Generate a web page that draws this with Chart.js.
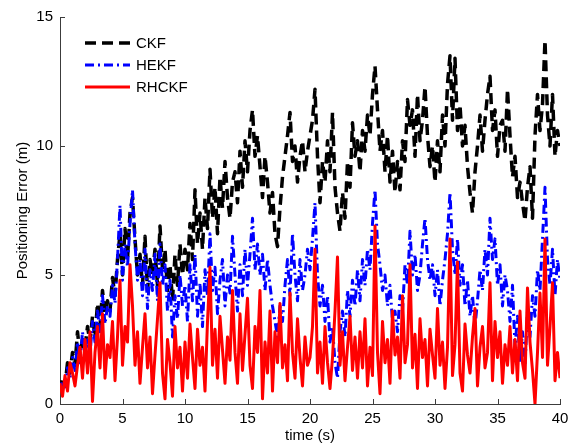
<!DOCTYPE html>
<html>
<head>
<meta charset="utf-8">
<script src="https://cdn.jsdelivr.net/npm/chart.js"></script>
<style>
  html, body { margin: 0; padding: 0; background: #fff; }
  #wrap { width: 575px; height: 445px; }
</style>
</head>
<body>
<div id="wrap"><canvas id="myChart" width="575" height="445"></canvas></div>
<script>
// sample step of the simulation (s), 201 samples from 0 to 40 s
const step = 0.2;
const xTicks = [0, 5, 10, 15, 20, 25, 30, 35, 40];
const yTicks = [0, 5, 10, 15];
const names = ['CKF', 'HEKF', 'RHCKF'];

const ckf = [
  0.5,1.0,0.7,1.6,1.2,2.0,1.5,2.8,1.9,2.5,
  2.2,3.0,2.4,3.4,2.6,3.9,3.0,4.4,3.5,4.0,
  3.6,4.9,4.2,5.6,6.6,5.0,6.8,5.6,7.4,8.0,
  6.4,5.0,5.8,4.6,6.5,4.4,5.6,5.0,6.0,4.6,
  6.9,5.2,6.0,4.4,5.4,4.0,5.8,4.6,6.2,5.0,
  6.0,5.2,7.0,5.6,8.3,6.2,7.4,6.0,8.0,6.8,
  9.1,7.2,8.4,6.6,8.8,7.6,9.4,8.0,7.2,8.6,
  9.0,7.8,9.8,8.4,10.2,9.0,10.6,11.4,9.6,10.4,
  9.2,8.0,9.6,8.6,7.4,8.2,6.6,6.1,7.6,8.8,
  9.6,10.4,11.3,9.4,10.0,8.6,9.6,10.2,9.0,9.8,
  10.4,11.0,12.2,9.6,7.8,9.4,8.6,10.2,9.0,11.3,
  8.4,7.4,6.7,8.2,7.2,9.4,8.4,10.9,9.6,10.2,
  9.0,10.6,9.8,11.2,10.4,12.0,13.1,11.4,9.8,10.6,
  9.0,10.4,8.6,9.8,8.2,9.4,8.3,10.2,9.4,11.8,
  10.8,11.4,9.6,12.0,10.2,11.0,12.3,10.4,9.2,10.0,
  8.6,10.2,9.0,11.2,10.0,12.4,13.5,11.0,13.4,10.6,
  11.6,10.0,10.8,9.2,8.2,7.4,9.0,10.0,11.2,9.8,
  11.0,12.0,12.7,10.6,11.4,9.6,10.8,11.0,9.8,12.2,
  10.4,8.8,9.6,8.0,8.6,7.8,7.1,8.4,9.2,7.2,
  10.4,12.0,10.6,11.6,14.1,11.2,10.0,12.0,9.6,10.6,
  10.0
];

const hekf = [
  0.5,0.9,0.6,1.4,1.0,1.8,1.3,2.4,1.6,2.8,
  2.0,2.6,1.9,3.2,2.4,3.6,2.8,4.2,3.1,3.8,
  3.4,4.6,3.9,5.6,7.7,4.8,6.2,5.3,7.0,8.3,
  6.2,4.8,5.6,4.2,6.0,3.7,5.2,4.4,5.8,4.0,
  6.2,4.6,5.4,3.6,4.8,2.6,4.2,3.3,5.0,3.8,
  4.6,3.2,5.4,4.0,5.8,3.4,4.7,3.0,5.2,4.2,
  6.6,4.4,5.3,3.5,4.8,5.6,3.8,5.0,4.3,6.5,
  5.0,3.6,5.4,4.2,6.0,4.6,5.8,7.2,5.2,6.2,
  5.0,5.8,4.4,5.6,4.6,3.8,3.2,2.6,3.8,3.2,
  4.6,5.6,4.2,6.6,5.0,4.0,5.6,4.4,5.0,6.0,
  5.2,6.4,7.8,5.0,3.8,4.6,3.2,4.2,2.4,3.0,
  1.6,1.0,2.8,3.6,2.6,4.4,3.4,4.8,3.8,5.2,
  4.0,5.6,4.6,6.0,5.2,7.0,8.3,6.2,5.4,4.4,
  5.0,3.8,4.6,3.2,3.6,2.8,4.2,3.6,5.4,4.6,
  6.7,5.0,5.8,4.4,5.0,6.2,7.2,5.6,4.8,5.4,
  4.2,5.2,3.8,4.8,5.6,6.6,8.2,6.0,5.0,6.4,
  4.6,5.4,3.8,4.8,3.4,4.2,3.0,4.0,5.2,4.4,
  6.0,5.0,7.2,5.6,6.4,4.6,5.4,3.8,5.0,4.4,
  3.2,4.6,2.2,3.4,1.6,2.8,1.5,3.6,2.6,4.2,
  3.4,5.2,4.4,6.4,8.4,5.6,4.6,6.0,4.2,5.6,
  4.8
];

const rhckf = [
  0.8,0.3,1.1,0.5,1.6,1.2,0.7,1.5,2.2,1.0,
  2.5,1.2,2.8,0.1,2.0,3.0,1.4,3.5,1.0,2.3,
  1.8,3.2,0.9,2.6,4.8,1.5,3.0,2.4,5.4,3.8,
  1.5,2.8,0.8,2.2,3.5,1.4,2.6,0.4,1.9,3.3,
  4.7,1.2,0.2,2.5,1.6,0.3,3.0,1.4,2.2,0.5,
  2.4,1.0,3.1,1.8,0.6,2.9,1.5,2.2,0.5,3.2,
  5.3,1.5,2.9,1.0,3.4,2.1,0.8,2.6,1.7,4.4,
  2.0,0.8,3.5,1.3,2.7,4.1,1.5,0.6,3.0,2.0,
  4.4,0.2,2.4,1.2,3.6,0.5,2.8,1.6,3.9,1.4,
  2.3,0.9,4.3,2.0,1.0,3.3,1.8,0.7,2.6,1.5,
  1.8,3.0,6.0,1.2,2.4,0.8,3.0,1.6,0.6,1.8,
  3.6,5.7,1.5,2.8,0.9,2.2,3.4,1.3,2.6,1.0,
  2.8,1.4,3.3,0.7,2.2,1.1,6.9,2.0,0.4,3.2,
  1.6,2.5,0.8,3.6,1.9,2.6,1.0,4.2,1.6,2.3,
  5.4,1.4,2.7,0.6,3.3,1.8,2.5,0.7,2.9,1.9,
  1.0,3.7,1.5,2.4,0.6,2.2,6.4,1.1,2.3,5.5,
  1.2,0.5,3.1,1.9,1.2,2.6,3.7,0.7,2.2,3.0,
  1.4,2.0,4.7,0.9,3.2,1.8,2.8,0.8,2.3,1.5,
  3.0,1.2,2.5,0.9,3.6,1.6,1.0,4.5,2.4,1.3,
  0.0,2.0,4.3,1.8,6.4,1.5,3.0,4.7,0.9,2.0,
  1.0
];

function toPoints(arr) {
  return arr.map((v, i) => ({ x: +(i * step).toFixed(1), y: v }));
}

const FONT = 'Liberation Sans, Arial, sans-serif';
const AXIS = '#3c3c3c';

// inward ticks + legend without box, like the matlab figure
const decor = {
  id: 'decor',
  afterDraw(chart) {
    const ctx = chart.ctx;
    const a = chart.chartArea;
    const xs = chart.scales.x, ys = chart.scales.y;
    ctx.save();
    ctx.strokeStyle = AXIS;
    ctx.lineWidth = 1;
    ctx.beginPath();
    xTicks.forEach(v => {
      const px = Math.round(xs.getPixelForValue(v)) + 0.5;
      ctx.moveTo(px, a.bottom);
      ctx.lineTo(px, a.bottom - 5);
    });
    yTicks.forEach(v => {
      const py = Math.round(ys.getPixelForValue(v)) + 0.5;
      ctx.moveTo(a.left, py);
      ctx.lineTo(a.left + 5, py);
    });
    ctx.stroke();

    // legend
    const ds = chart.data.datasets;
    const rows = [43, 65, 87];
    ds.forEach((d, i) => {
      const y = rows[i];
      ctx.beginPath();
      ctx.strokeStyle = d.borderColor;
      ctx.lineWidth = d.borderWidth;
      ctx.setLineDash(d.borderDash || []);
      ctx.moveTo(85, y);
      ctx.lineTo(130, y);
      ctx.stroke();
      ctx.setLineDash([]);
      ctx.fillStyle = '#000';
      ctx.font = '15px ' + FONT;
      ctx.textBaseline = 'middle';
      ctx.fillText(d.label, 136, y + 1);
    });
    ctx.restore();
  }
};

const ctx = document.getElementById('myChart');
new Chart(ctx, {
  type: 'line',
  data: {
    datasets: [
      { label: names[0], data: toPoints(ckf), borderColor: '#000000', borderWidth: 3.5,
        borderDash: [11, 6], order: 3 },
      { label: names[1], data: toPoints(hekf), borderColor: '#0000ff', borderWidth: 3,
        borderDash: [9, 4, 2, 4], order: 2 },
      { label: names[2], data: toPoints(rhckf), borderColor: '#ff0000', borderWidth: 3,
        order: 1 }
    ]
  },
  options: {
    responsive: false,
    animation: false,
    devicePixelRatio: 1,
    elements: { point: { radius: 0 }, line: { tension: 0, borderJoinStyle: 'round' } },
    layout: { padding: { top: 17, right: 15, left: 0, bottom: 0 } },
    plugins: { legend: { display: false }, tooltip: { enabled: false } },
    scales: {
      x: {
        type: 'linear', min: 0, max: 40,
        afterBuildTicks: s => { s.ticks = xTicks.map(v => ({ value: v })); },
        afterFit: s => { s.height = 41; },
        grid: { display: false, drawTicks: false },
        border: { display: true, color: AXIS, width: 1 },
        ticks: { color: '#000', font: { family: FONT, size: 15 }, padding: 6, maxRotation: 0 },
        title: { display: true, text: 'time (s)', color: '#000', font: { family: FONT, size: 15 }, padding: { top: 0, bottom: 0 } }
      },
      y: {
        min: 0, max: 15,
        afterBuildTicks: s => { s.ticks = yTicks.map(v => ({ value: v })); },
        afterFit: s => { s.width = 60; },
        grid: { display: false, drawTicks: false },
        border: { display: true, color: AXIS, width: 1 },
        ticks: { color: '#000', font: { family: FONT, size: 15 }, padding: 7 },
        title: { display: true, text: 'Positioning Error (m)', color: '#000', font: { family: FONT, size: 15 }, padding: { top: 14, bottom: 0 } }
      }
    }
  },
  plugins: [decor]
});
</script>
</body>
</html>
